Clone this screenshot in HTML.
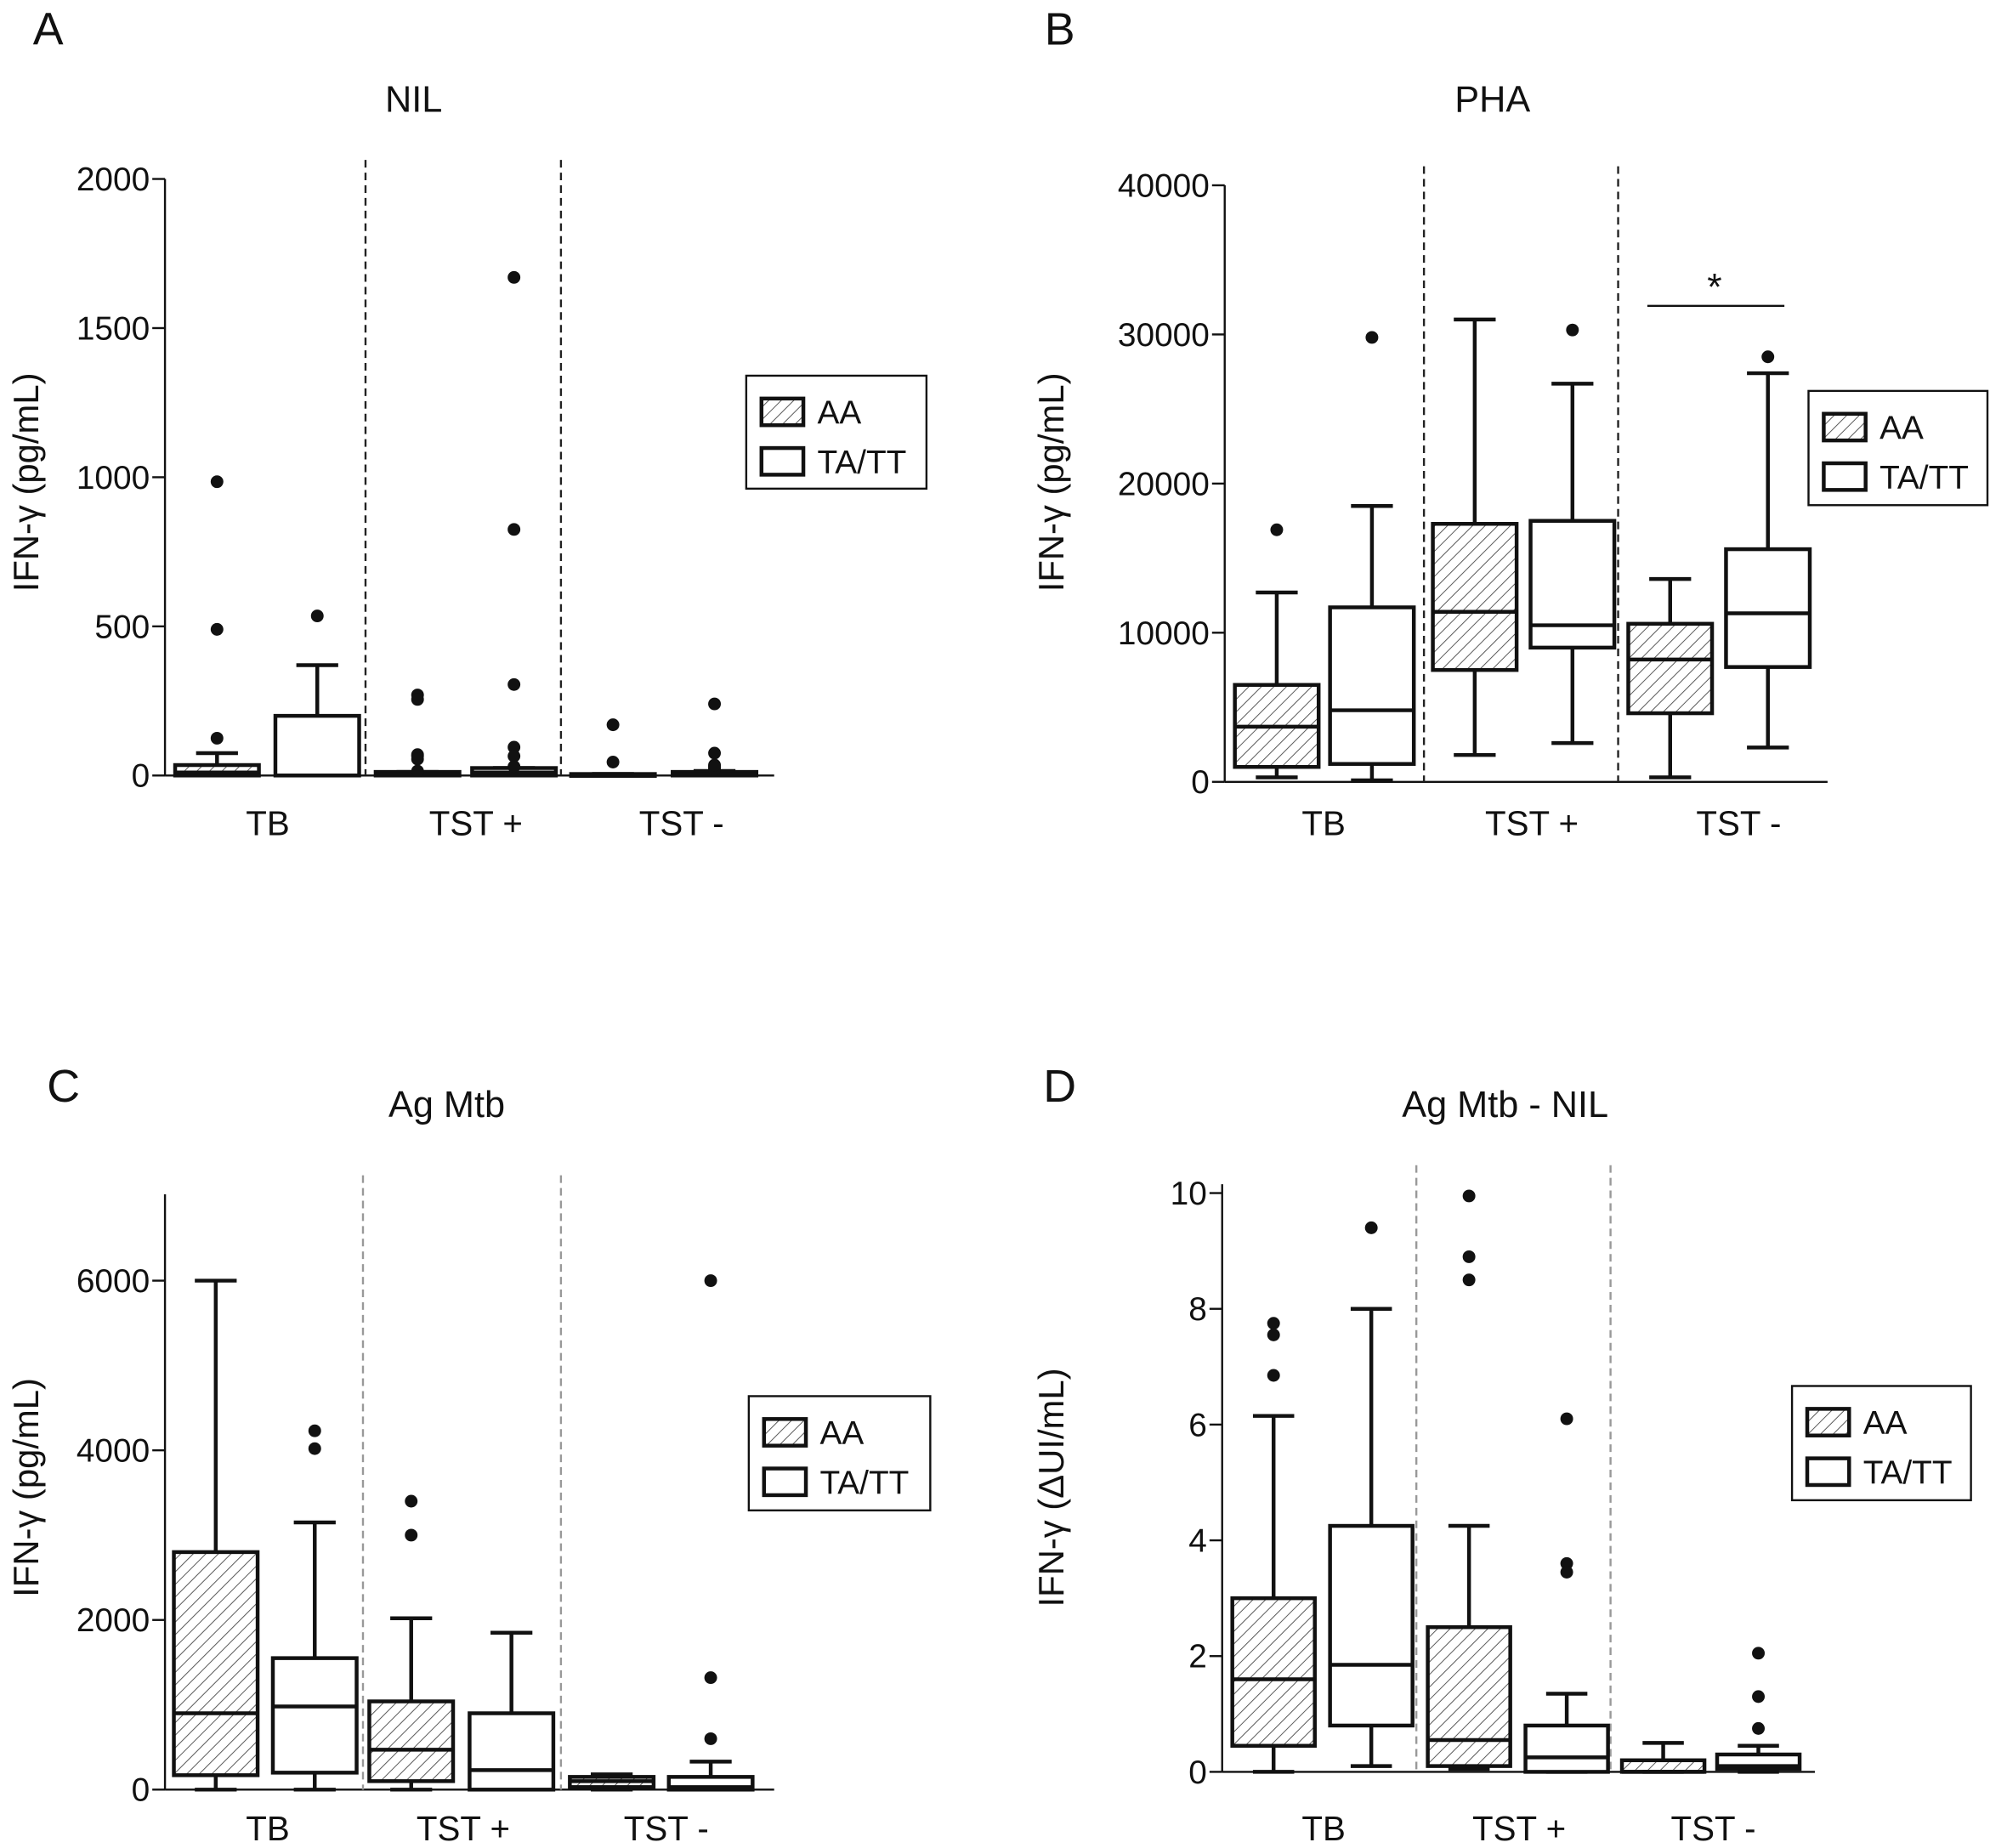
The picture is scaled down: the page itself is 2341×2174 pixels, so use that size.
<!DOCTYPE html>
<html><head><meta charset="utf-8">
<style>
html,body{margin:0;padding:0;background:#fff;}
svg{display:block;}
text{font-family:"Liberation Sans",sans-serif;fill:#111;}
</style></head>
<body>
<svg id="fig" width="2341" height="2174" viewBox="0 0 1568 1456" preserveAspectRatio="none" xmlns="http://www.w3.org/2000/svg">
<defs>
<pattern id="hatch" patternUnits="userSpaceOnUse" width="7" height="7" patternTransform="rotate(45)">
<line x1="0" y1="0" x2="0" y2="7" stroke="#555" stroke-width="1.3"/>
</pattern>
</defs>
</svg>
<script>
// ---- Data ----
const groups = ["TB", "TST +", "TST -"];
const genotypes = ["AA", "TA/TT"];
const nilBoxes = [[0,0,10,35,75],[0,0,0,200,370],[0,0,5,12,12],[0,0,10,25,25],[0,0,2,5,5],[0,0,5,12,15]];
const nilOutliers = [[125,490,985],[535],[270,255,65,70,55,15],[1670,825,305,95,65,30],[170,45],[240,75,30,25,20,35]];
const nilTicks = [0,500,1000,1500,2000];
const phaBoxes = [[300,1000,3700,6500,12700],[100,1200,4800,11700,18500],[1800,7500,11400,17300,31000],[2600,9000,10500,17500,26700],[300,4600,8200,10600,13600],[2300,7700,11300,15600,27400]];
const phaOutliers = [[16900],[29800],[],[30300],[],[28500]];
const phaTicks = [0,10000,20000,30000,40000];
const agBoxes = [[0,170,900,2800,6000],[0,200,980,1550,3150],[0,100,470,1040,2020],[0,0,230,900,1850],[0,30,100,150,180],[0,0,30,150,330]];
const agOutliers = [[],[4020,4230],[3400,3000],[],[],[6000,1320,600]];
const agTicks = [0,2000,4000,6000];
const dBoxes = [[0,0.45,1.6,3.0,6.15],[0.1,0.8,1.85,4.25,8.0],[0.05,0.1,0.55,2.5,4.25],[0,0,0.25,0.8,1.35],[0,0,0,0.2,0.5],[0,0.05,0.1,0.3,0.45]];
const dOutliers = [[7.75,7.55,6.85],[9.4],[9.95,8.9,8.5],[6.1,3.6,3.45],[],[2.05,1.3,0.75]];
const dTicks = [0,2,4,6,8,10];

// ---- Layout ----
const panels = [
 {id:"a",letter:"A",lx:38,ly:35,title:"NIL",tx:326,ty:88,ax:130,x1:610,y0:611,yTop:141,vmax:2000,axTop:141,
  dash:[288,442],dashColor:"#222",boxX:[138,217,296,372,450,530],bw:66,labX:[211,375,537],labY:658,
  boxes:nilBoxes,outs:nilOutliers,ticks:nilTicks,ytitle:"IFN-γ (pg/mL)",ytX:30,ytY:380,leg:[588,296,142,89]},
 {id:"b",letter:"B",lx:835,ly:35,title:"PHA",tx:1176,ty:88,ax:965,x1:1440,y0:616,yTop:146,vmax:40000,axTop:146,
  dash:[1122,1275],dashColor:"#222",boxX:[973,1048,1129,1206,1283,1360],bw:66,labX:[1043,1207,1370],labY:658,
  boxes:phaBoxes,outs:phaOutliers,ticks:phaTicks,ytitle:"IFN-γ (pg/mL)",ytX:838,ytY:380,leg:[1425,308,141,90]},
 {id:"c",letter:"C",lx:50,ly:868,title:"Ag Mtb",tx:352,ty:880,ax:130,x1:610,y0:1410,yTop:1009,vmax:6000,axTop:941,
  dash:[286,442],dashColor:"#999",boxX:[137,215,291,370,449,527],bw:66,labX:[211,365,525],labY:1450,
  boxes:agBoxes,outs:agOutliers,ticks:agTicks,ytitle:"IFN-γ (pg/mL)",ytX:30,ytY:1172,leg:[590,1100,143,90]},
 {id:"d",letter:"D",lx:835,ly:868,title:"Ag Mtb - NIL",tx:1186,ty:880,ax:963,x1:1430,y0:1396,yTop:940,vmax:10,axTop:933,
  dash:[1116,1269],dashColor:"#999",boxX:[971,1048,1125,1202,1278,1353],bw:65,labX:[1043,1197,1350],labY:1450,
  boxes:dBoxes,outs:dOutliers,ticks:dTicks,ytitle:"IFN-γ (ΔUI/mL)",ytX:838,ytY:1172,leg:[1412,1092,141,90]}
];

const svg = document.getElementById("fig");
const NS = "http://www.w3.org/2000/svg";
function mk(tag, attrs, parent){
  const e = document.createElementNS(NS, tag);
  for (const k in attrs) e.setAttribute(k, attrs[k]);
  (parent||svg).appendChild(e);
  return e;
}

panels.forEach(p=>{
  const g = mk("g",{});
  
  
  const y = v => p.y0 - (v/p.vmax)*(p.y0-p.yTop);

  let t = mk("text",{x:p.lx,y:p.ly,"font-size":36,"text-anchor":"middle"},g); t.textContent=p.letter;
  
  
  t = mk("text",{x:p.tx,y:p.ty,"font-size":29,"text-anchor":"middle"},g); t.textContent=p.title;
  
  
  t = mk("text",{x:0,y:0,"font-size":28,"text-anchor":"middle",transform:`translate(${p.ytX},${p.ytY}) rotate(-90)`},g); t.textContent=p.ytitle;
  
  

  let l = mk("line",{x1:p.ax,y1:p.axTop,x2:p.ax,y2:p.y0,stroke:"#111","stroke-width":1.6},g);
  
  
  l = mk("line",{x1:p.ax,y1:p.y0,x2:p.x1,y2:p.y0,stroke:"#111","stroke-width":1.6},g);
  
  
  p.ticks.forEach(v=>{
    const yy=y(v);
    mk("line",{x1:p.ax-10,y1:yy,x2:p.ax,y2:yy,stroke:"#111","stroke-width":1.6},g);
    const tt = mk("text",{x:p.ax-12,y:yy+9,"font-size":26,"text-anchor":"end"},g); tt.textContent=v;
    
    
  });
  p.dash.forEach(dx=>{
    const d = mk("line",{x1:dx,y1:p.axTop-15,x2:dx,y2:p.y0,stroke:p.dashColor,"stroke-width":1.6,"stroke-dasharray":"6,4"},g);
    
    
  });
  groups.forEach((gn,i)=>{
    const tt = mk("text",{x:p.labX[i],y:p.labY,"font-size":27,"text-anchor":"middle"},g); tt.textContent=gn;
    
    
  });

  p.boxes.forEach((b,i)=>{
    const x0=p.boxX[i], w=p.bw, cx=x0+w/2, hatched = i%2===0;
    const bg = mk("g",{},g);
    
    
    const st={stroke:"#111","stroke-width":3,fill:"none"};
    mk("line",Object.assign({x1:cx,y1:y(b[0]),x2:cx,y2:y(b[1])},st),bg);
    mk("line",Object.assign({x1:cx,y1:y(b[3]),x2:cx,y2:y(b[4])},st),bg);
    mk("line",Object.assign({x1:cx-w/4,y1:y(b[0]),x2:cx+w/4,y2:y(b[0])},st),bg);
    mk("line",Object.assign({x1:cx-w/4,y1:y(b[4]),x2:cx+w/4,y2:y(b[4])},st),bg);
    const h=Math.max(y(b[1])-y(b[3]),1.5);
    mk("rect",{x:x0,y:y(b[3]),width:w,height:h,fill:hatched?"url(#hatch)":"#fff",stroke:"#111","stroke-width":3},bg);
    mk("line",Object.assign({x1:x0,y1:y(b[2]),x2:x0+w,y2:y(b[2])},st),bg);
    p.outs[i].forEach(o=>{
      const c = mk("circle",{cx:cx,cy:y(o),r:5,fill:"#111"},bg);
      
      
    });
  });

  const [lx,ly,lw,lh]=p.leg;
  const lg = mk("g",{},g);
  
  
  mk("rect",{x:lx,y:ly,width:lw,height:lh,fill:"#fff",stroke:"#111","stroke-width":1.6},lg);
  genotypes.forEach((gn,k)=>{
    const ey = ly+18+k*39;
    const e = mk("g",{},lg);
    
    
    mk("rect",{x:lx+12,y:ey,width:33,height:21,fill:k===0?"url(#hatch)":"#fff",stroke:"#111","stroke-width":3},e);
    const tt=mk("text",{x:lx+56,y:ey+20,"font-size":26},e); tt.textContent=gn;
  });
});

const sl = mk("line",{x1:1298,y1:241,x2:1406,y2:241,stroke:"#111","stroke-width":1.6});


const st = mk("text",{x:1351,y:236,"font-size":30,"text-anchor":"middle"}); st.textContent="*";


</script>
</body></html>
